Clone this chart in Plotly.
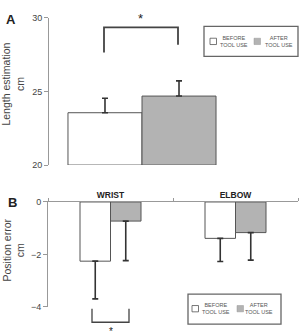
import plotly.graph_objects as go

W, H = 303, 336

# ---- Data ----
top_categories = ["Length"]
top_before = [23.55]
top_before_err = [0.98]
top_after = [24.68]
top_after_err = [1.03]

bottom_categories = ["WRIST", "ELBOW"]
bottom_before = [-2.26, -1.39]
bottom_before_err = [1.44, 0.88]
bottom_after = [-0.73, -1.17]
bottom_after_err = [1.51, 1.05]

top_ticks = [20, 25, 30]
bottom_ticks = [-4, -2, 0]

FONT = "Liberation Sans, Arial, Helvetica, sans-serif"
WHITE = "#ffffff"
GREY = "#b3b3b3"
EDGE = "#555555"
ERR = "#333333"
AXC = "#999999"
TXT = "#444444"

def px(x):
    return x / W

def py(y):
    return 1 - y / H

fig = go.Figure()

# Top panel bars
fig.add_trace(go.Bar(
    x=top_categories, y=[v - 20 for v in top_before], base=20, name="BEFORE TOOL USE",
    marker=dict(color=WHITE, line=dict(color=EDGE, width=1)),
    error_y=dict(type="data", symmetric=False, array=top_before_err, arrayminus=[0] * len(top_before),
                 color=ERR, thickness=1.6, width=3),
    xaxis="x", yaxis="y", showlegend=False))
fig.add_trace(go.Bar(
    x=top_categories, y=[v - 20 for v in top_after], base=20, name="AFTER TOOL USE",
    marker=dict(color=GREY, line=dict(color=EDGE, width=1)),
    error_y=dict(type="data", symmetric=False, array=top_after_err, arrayminus=[0] * len(top_after),
                 color=ERR, thickness=1.6, width=3),
    xaxis="x", yaxis="y", showlegend=False))

# Bottom panel bars
fig.add_trace(go.Bar(
    x=bottom_categories, y=bottom_before, name="BEFORE TOOL USE",
    marker=dict(color=WHITE, line=dict(color=EDGE, width=1)),
    error_y=dict(type="data", symmetric=False, array=[0] * len(bottom_before), arrayminus=bottom_before_err,
                 color=ERR, thickness=1.6, width=3),
    xaxis="x2", yaxis="y2", showlegend=False, offsetgroup="b"))
fig.add_trace(go.Bar(
    x=bottom_categories, y=bottom_after, name="AFTER TOOL USE",
    marker=dict(color=GREY, line=dict(color=EDGE, width=1)),
    error_y=dict(type="data", symmetric=False, array=[0] * len(bottom_after), arrayminus=bottom_after_err,
                 color=ERR, thickness=1.6, width=3),
    xaxis="x2", yaxis="y2", showlegend=False, offsetgroup="a"))

shapes = []
annotations = []

def note(text, x, y, size, color="#222", angle=0):
    annotations.append(dict(text=text, x=px(x), y=py(y), xref="paper", yref="paper", showarrow=False,
                            xanchor="center", yanchor="middle", textangle=angle,
                            font=dict(size=size, color=color, family=FONT)))

# Top significance bracket
shapes.append(dict(type="path", xref="paper", yref="paper",
                   path=f"M {px(104)} {py(49)} L {px(104)} {py(23)} L {px(178)} {py(23)} L {px(178)} {py(41)}",
                   line=dict(color="#444444", width=1.8)))
note("*", 140, 14, 13)
# Bottom significance bracket
shapes.append(dict(type="path", xref="paper", yref="paper",
                   path=f"M {px(92)} {py(313)} L {px(92)} {py(327)} L {px(129)} {py(327)} L {px(129)} {py(313)}",
                   line=dict(color="#444444", width=1.3)))
note("*", 111, 337, 10)

# Legends
def legend_box(x0, x1, y0, y1, sq1, t1, sq2, t2, ymid):
    shapes.append(dict(type="rect", xref="paper", yref="paper", x0=px(x0), x1=px(x1), y0=py(y1), y1=py(y0),
                       line=dict(color="#666666", width=1.3), fillcolor="white"))
    s = 6.5
    shapes.append(dict(type="rect", xref="paper", yref="paper", x0=px(sq1), x1=px(sq1 + s),
                       y0=py(ymid + s / 2), y1=py(ymid - s / 2), line=dict(color="#555", width=0.8), fillcolor=WHITE))
    shapes.append(dict(type="rect", xref="paper", yref="paper", x0=px(sq2), x1=px(sq2 + s),
                       y0=py(ymid + s / 2), y1=py(ymid - s / 2), line=dict(color="#999", width=0.5), fillcolor=GREY))
    note("BEFORE<br>TOOL USE", t1, ymid, 5.5, "#555")
    note("AFTER<br>TOOL USE", t2, ymid, 5.5, "#555")

legend_box(204, 298, 22, 53, 210, 234, 254, 279, 37.5)
legend_box(188, 281, 298, 329, 192, 216, 237, 259, 313)

# Panel letters
note("<b>A</b>", 11, 15, 13)
note("<b>B</b>", 12, 204, 13)

# Y titles
note("Length estimation<br>cm", 13, 82, 10.5, TXT, -90)
note("Position error<br>cm", 14, 253, 10.5, TXT, -90)

fig.update_layout(
    width=W, height=H, margin=dict(l=0, r=0, t=0, b=0),
    paper_bgcolor="white", plot_bgcolor="white",
    barmode="group", bargap=0.204, bargroupgap=0,
    font=dict(family=FONT, color=TXT),
    xaxis=dict(domain=[px(49), px(235)], showgrid=False, showline=False, showticklabels=False,
               ticks="", zeroline=False, anchor="y", range=[-0.5, 0.5]),
    yaxis=dict(domain=[py(165), py(13)], range=[20, 30], tickvals=top_ticks, showgrid=False,
               showline=True, linecolor=AXC, linewidth=1, ticks="outside", ticklen=4, tickcolor=AXC,
               tickfont=dict(size=9, color=TXT), zeroline=False, anchor="x"),
    xaxis2=dict(domain=[px(48), px(298)], range=[-0.5, 1.5], side="top", anchor="y2",
                showline=True, linecolor=AXC, linewidth=1, showgrid=False, zeroline=False,
                ticks="outside", tickson="boundaries", ticklen=3, tickcolor=AXC,
                tickfont=dict(size=8.5, color="#222", family=FONT),
                tickprefix="<b>", ticksuffix="</b>"),
    yaxis2=dict(domain=[py(311), py(203)], range=[-4, 0], tickvals=bottom_ticks, showgrid=False,
                showline=True, linecolor=AXC, linewidth=1, ticks="outside", ticklen=4, tickcolor=AXC,
                tickfont=dict(size=9, color=TXT), zeroline=False, anchor="x2"),
    shapes=shapes, annotations=annotations,
)

# bottom panel: narrower bars than top panel
fig.update_traces(selector=dict(xaxis="x2"), width=0.244)
fig.data[2].offset = -0.244
fig.data[3].offset = 0.0

fig.write_html("out.html")
